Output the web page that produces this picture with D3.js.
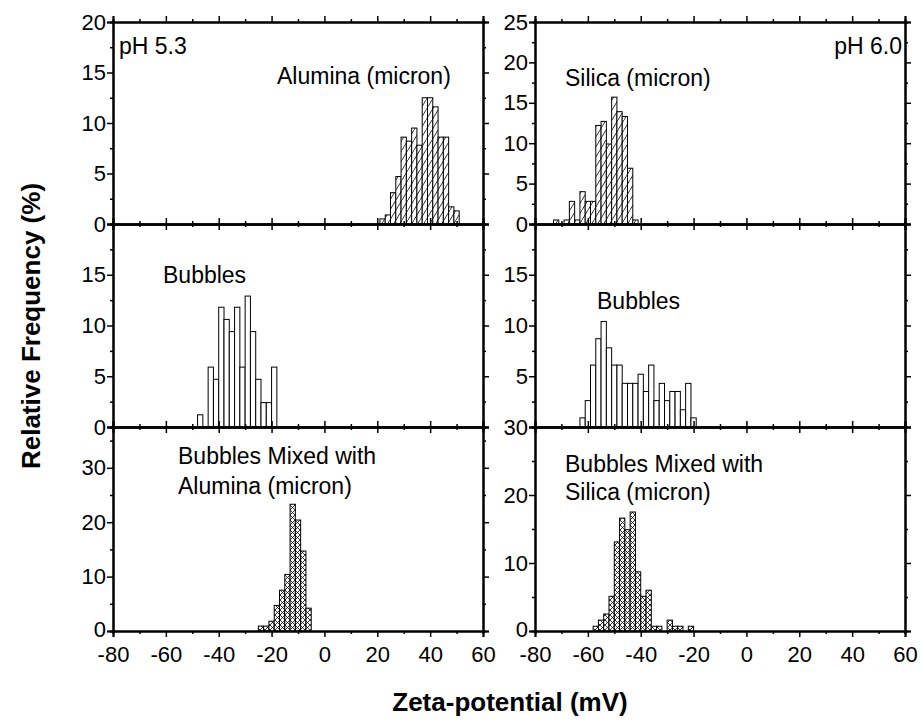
<!DOCTYPE html>
<html lang="en">
<head>
    <meta charset="UTF-8">
    <title>Zeta-potential distributions</title>
    <script src="https://d3js.org/d3.v7.min.js"></script>
    <style>
        body { margin: 0; background: #fff; }
        text { font-family: "Liberation Sans", Arial, sans-serif; fill: #000; }
        .tick-label { font-size: 22px; }
        .note { font-size: 23px; }
        .title { font-size: 26px; font-weight: bold; }
        .bar { stroke: #000; stroke-width: 1; }
    </style>
</head>
<body>
    <svg width="921" height="728"></svg>

    <script>
        // x ticks shared by all panels
        const xMajor = [-80, -60, -40, -20, 0, 20, 40, 60];
        const xMinor = [-70, -50, -30, -10, 10, 30, 50];

        // bin centres (mV) and relative frequency (%), bin width 2 mV
        const aluminaBins = [22, 24, 26, 28, 30, 32, 34, 36, 38, 40, 42, 44, 46, 48, 50];
        const aluminaFreq = [0.5, 0.9, 3.1, 4.7, 8.6, 8.2, 9.5, 7.8, 12.5, 12.5, 11.6, 8.6, 8.6, 1.7, 1.3];

        const silicaBins = [-72, -70, -68, -66, -64, -62, -60, -58, -56, -54, -52, -50, -48, -46, -44, -42];
        const silicaFreq = [0.5, 0, 0.5, 2.8, 0.5, 4.0, 2.8, 2.8, 12.2, 12.7, 9.9, 15.7, 13.9, 13.3, 6.9, 0.5];

        const bubblesLBins = [-47, -45, -43, -41, -39, -37, -35, -33, -31, -29, -27, -25, -23, -21, -19];
        const bubblesLFreq = [1.2, 0, 5.9, 4.7, 11.8, 10.6, 9.4, 11.8, 5.9, 12.9, 9.4, 4.7, 2.4, 2.4, 5.9];

        const bubblesRBins = [-62, -60, -58, -56, -54, -52, -50, -48, -46, -44, -42, -40, -38, -36, -34, -32, -30, -28, -26, -24, -22, -20];
        const bubblesRFreq = [0.9, 2.6, 6.1, 8.7, 10.4, 7.8, 6.1, 6.1, 4.3, 4.3, 4.3, 5.2, 3.5, 6.1, 2.6, 4.3, 2.6, 3.5, 3.5, 1.7, 4.3, 0.9];

        const mixAluminaBins = [-24, -22, -20, -18, -16, -14, -12, -10, -8, -6];
        const mixAluminaFreq = [0.9, 0.9, 1.8, 4.7, 7.5, 10.4, 23.3, 20.4, 14.7, 4.2];

        const mixSilicaBins = [-57, -55, -53, -51, -49, -47, -45, -43, -41, -39, -37, -35, -33, -31, -29, -27, -25, -23, -21];
        const mixSilicaFreq = [0.7, 1.6, 2.5, 5.1, 13.1, 16.6, 14.9, 17.5, 8.7, 5.1, 6.0, 0.7, 0.7, 0, 1.6, 0.7, 0.7, 0, 0.7];

        const binWidth = 2;

        const svg = d3.select("svg");

        // hatch patterns
        const defs = svg.append("defs");
        const diag = defs.append("pattern")
            .attr("id", "diag")
            .attr("patternUnits", "userSpaceOnUse")
            .attr("width", 6).attr("height", 10);
        diag.append("rect").attr("width", 6).attr("height", 10).attr("fill", "#fff");
        diag.append("path").attr("d", "M0,10 L6,0").attr("stroke", "#000").attr("stroke-width", 0.8);

        const cross = defs.append("pattern")
            .attr("id", "cross")
            .attr("patternUnits", "userSpaceOnUse")
            .attr("width", 5).attr("height", 5);
        cross.append("rect").attr("width", 5).attr("height", 5).attr("fill", "#fff");
        cross.append("path").attr("d", "M0,5 L5,0 M0,0 L5,5").attr("stroke", "#000").attr("stroke-width", 0.8);

        const cols = [[113, 483], [535, 905]];
        const rows = [[22, 224], [224, 427], [427, 631]];

        const panels = [
            { col: 0, row: 0, bins: aluminaBins, freq: aluminaFreq, ymax: 20, major: [0, 5, 10, 15, 20], minor: [2.5, 7.5, 12.5, 17.5], fill: "url(#diag)" },
            { col: 1, row: 0, bins: silicaBins, freq: silicaFreq, ymax: 25, major: [0, 5, 10, 15, 20, 25], minor: [2.5, 7.5, 12.5, 17.5, 22.5], fill: "url(#diag)" },
            { col: 0, row: 1, bins: bubblesLBins, freq: bubblesLFreq, ymax: 20, major: [0, 5, 10, 15], minor: [2.5, 7.5, 12.5, 17.5], fill: "#fff" },
            { col: 1, row: 1, bins: bubblesRBins, freq: bubblesRFreq, ymax: 20, major: [5, 10, 15], minor: [2.5, 7.5, 12.5, 17.5], fill: "#fff" },
            { col: 0, row: 2, bins: mixAluminaBins, freq: mixAluminaFreq, ymax: 37.5, major: [0, 10, 20, 30], minor: [5, 15, 25, 35], fill: "url(#cross)", xlabels: true },
            { col: 1, row: 2, bins: mixSilicaBins, freq: mixSilicaFreq, ymax: 30, major: [0, 10, 20, 30], minor: [5, 15, 25], fill: "url(#cross)", xlabels: true }
        ];

        const majLen = 6, minLen = 3;
        const plain = d => String(d);   // hyphen-minus like the original

        panels.forEach(p => {
            const [x0, x1] = cols[p.col];
            const [y0, y1] = rows[p.row];
            const x = d3.scaleLinear().domain([-80, 60]).range([x0, x1]);
            const y = d3.scaleLinear().domain([0, p.ymax]).range([y1, y0]);
            const g = svg.append("g");

            const data = p.bins.map((b, i) => ({ b: b, v: p.freq[i] })).filter(d => d.v > 0);
            g.selectAll("rect.bar")
                .data(data)
                .enter().append("rect")
                .attr("class", "bar")
                .attr("x", d => x(d.b - binWidth / 2))
                .attr("width", d => x(d.b + binWidth / 2) - x(d.b - binWidth / 2))
                .attr("y", d => y(d.v))
                .attr("height", d => y(0) - y(d.v))
                .attr("fill", p.fill);

            // y axes: left with labels, right mirror
            const yl = d3.axisLeft(y).tickValues(p.major).tickSize(majLen).tickFormat(plain);
            const ylAxis = g.append("g").attr("transform", `translate(${x0},0)`).call(yl);
            g.append("g").attr("transform", `translate(${x0},0)`)
                .call(d3.axisLeft(y).tickValues(p.minor).tickSize(minLen).tickFormat(""));
            g.append("g").attr("transform", `translate(${x1},0)`)
                .call(d3.axisRight(y).tickValues(p.major).tickSize(majLen).tickFormat(""));
            g.append("g").attr("transform", `translate(${x1},0)`)
                .call(d3.axisRight(y).tickValues(p.minor).tickSize(minLen).tickFormat(""));

            // x axes: bottom and top
            const xb = d3.axisBottom(x).tickValues(xMajor).tickSize(majLen)
                .tickFormat(p.xlabels ? plain : "");
            const xbAxis = g.append("g").attr("transform", `translate(0,${y1})`).call(xb);
            g.append("g").attr("transform", `translate(0,${y1})`)
                .call(d3.axisBottom(x).tickValues(xMinor).tickSize(minLen).tickFormat(""));
            g.append("g").attr("transform", `translate(0,${y0})`)
                .call(d3.axisTop(x).tickValues(xMajor).tickSize(majLen).tickFormat(""));
            g.append("g").attr("transform", `translate(0,${y0})`)
                .call(d3.axisTop(x).tickValues(xMinor).tickSize(minLen).tickFormat(""));

            g.selectAll(".domain").attr("stroke", "#000").attr("stroke-width", 2);
            g.selectAll(".tick line").attr("stroke", "#000").attr("stroke-width", 1.5);
            g.selectAll(".tick text").attr("class", "tick-label")
                .attr("font-family", null).attr("font-size", null).attr("fill", "#000");
            ylAxis.selectAll(".tick text").attr("x", -7);
            if (p.xlabels) {
                // lift the bottom "0" a little so it clears the x labels
                ylAxis.selectAll(".tick text").filter(d => d === 0).attr("y", -2);
            }
            xbAxis.selectAll(".tick text").attr("y", 15);
        });

        // panel annotations
        const notes = [
            { x: 119, y: 54, t: "pH 5.3" },
            { x: 277, y: 84, t: "Alumina (micron)" },
            { x: 902, y: 54, t: "pH 6.0", anchor: "end" },
            { x: 565, y: 86, t: "Silica (micron)" },
            { x: 163, y: 283, t: "Bubbles" },
            { x: 597, y: 309, t: "Bubbles" },
            { x: 178, y: 464, t: "Bubbles Mixed with" },
            { x: 178, y: 494, t: "Alumina (micron)" },
            { x: 565, y: 472, t: "Bubbles Mixed with" },
            { x: 565, y: 500, t: "Silica (micron)" }
        ];
        svg.selectAll("text.note")
            .data(notes)
            .enter().append("text")
            .attr("class", "note")
            .attr("x", d => d.x)
            .attr("y", d => d.y)
            .attr("text-anchor", d => d.anchor || "start")
            .text(d => d.t);

        // axis titles
        svg.append("text")
            .attr("class", "title")
            .attr("x", 510).attr("y", 711)
            .attr("text-anchor", "middle")
            .text("Zeta-potential (mV)");

        svg.append("text")
            .attr("class", "title")
            .attr("transform", "translate(40,326) rotate(-90)")
            .attr("text-anchor", "middle")
            .text("Relative Frequency (%)");
    </script>
</body>
</html>
